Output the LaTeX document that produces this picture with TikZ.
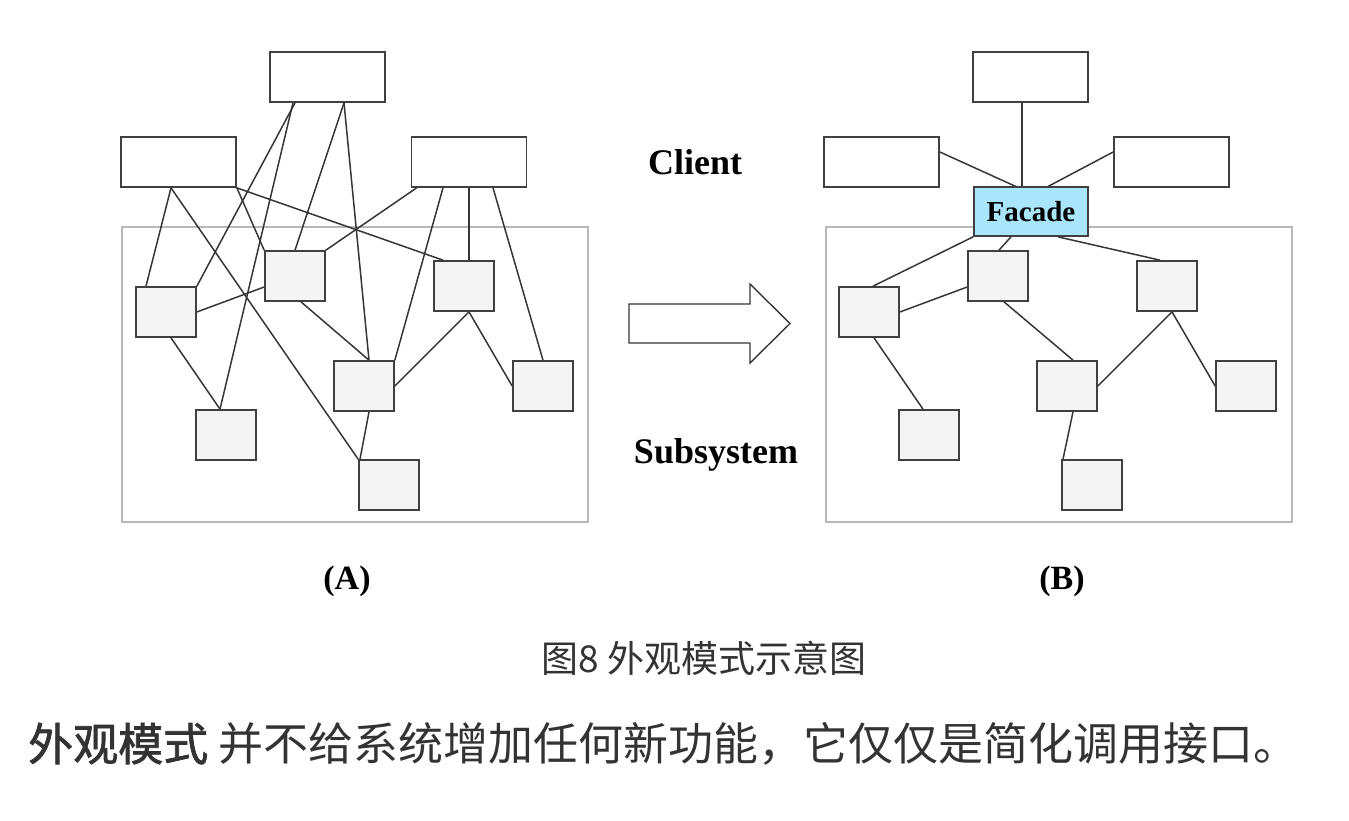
\documentclass[tikz,border=0pt]{standalone}
\usepackage{fontspec}
\setmainfont{Liberation Serif}
\newfontfamily\cjk{Noto Sans CJK SC}
\newfontfamily\cjkfb[FakeBold=1.6]{Noto Sans CJK SC}
\definecolor{linec}{HTML}{363636}
\definecolor{boxline}{HTML}{404040}
\definecolor{framec}{HTML}{B8B8B8}
\definecolor{subfill}{HTML}{F4F4F4}
\definecolor{facfill}{HTML}{A9E6FB}
\definecolor{txtc}{HTML}{333333}
\begin{document}
\begin{tikzpicture}[x=1pt,y=-1pt,
  client/.style={draw=boxline,line width=1.7pt,fill=white,inner sep=0pt,minimum width=115pt,minimum height=50pt},
  subbox/.style={draw=boxline,line width=1.7pt,fill=subfill,inner sep=0pt,minimum width=60pt,minimum height=50pt},
  frame/.style={draw=framec,line width=1.7pt,inner sep=0pt,minimum width=466pt,minimum height=295pt},
  facade/.style={draw=boxline,line width=1.7pt,fill=facfill,inner sep=0pt,minimum width=114pt,minimum height=49pt,font=\fontsize{29}{32}\selectfont\bfseries},
  conn/.style={draw=linec,line width=1.5pt},
  label/.style={font=\fontsize{36}{40}\selectfont\bfseries,inner sep=0pt},
  panel/.style={font=\fontsize{34}{38}\selectfont\bfseries,inner sep=0pt}]
\useasboundingbox (0,0) rectangle (1349,820);

% ---------- (A) ----------
\node[frame] (fa) at (355,374.5) {};
\node[client] (ta) at (327.5,77) {};
\node[client] (la) at (178.5,162) {};
\node[client] (ra) at (469,162) {};
\node[subbox] (a1) at (166,312) {};
\node[subbox] (a2) at (295,276) {};
\node[subbox] (a3) at (464,286) {};
\node[subbox] (a4) at (364,386) {};
\node[subbox] (a5) at (543,386) {};
\node[subbox] (a6) at (226,435) {};
\node[subbox] (a7) at (389,485) {};

\path[conn] ([xshift=-32.5pt]ta.south) -- (a1.north east);
\path[conn] ([xshift=-34.5pt]ta.south) -- ([xshift=-6pt]a6.north);
\path[conn] ([xshift=16.5pt]ta.south) -- (a2.north);
\path[conn] ([xshift=16.5pt]ta.south) -- ([xshift=5pt]a4.north);
\path[conn] ([xshift=-7.5pt]la.south) -- ([xshift=-20pt]a1.north);
\path[conn] ([xshift=-7.5pt]la.south) -- (a7.north west);
\path[conn] (la.south east) -- (a2.north west);
\path[conn] (la.south east) -- ([xshift=-21pt]a3.north);
\path[conn] ([xshift=6pt]ra.south west) -- (a2.north east);
\path[conn] ([xshift=-26pt]ra.south) -- (a4.north east);
\path[conn] (ra.south) -- (ra.south |- a3.north);
\path[conn] ([xshift=24pt]ra.south) -- (a5.north);
\path[conn] (a1.east) -- ([yshift=-11pt]a2.west);
\path[conn] ([xshift=5pt]a1.south) -- ([xshift=-6pt]a6.north);
\path[conn] ([xshift=6pt]a2.south) -- ([xshift=5pt]a4.north);
\path[conn] ([xshift=5pt]a3.south) -- (a4.east);
\path[conn] ([xshift=5pt]a3.south) -- (a5.west);
\path[conn] ([xshift=5pt]a4.south) -- ([xshift=-29pt]a7.north);

% ---------- arrow ----------
\draw[draw=linec,line width=1.4pt,fill=white,line join=miter]
  (629,304) -- (750,304) -- (750,284) -- (790,323.5) -- (750,363) -- (750,343) -- (629,343) -- cycle;

% ---------- (B) ----------
\node[frame] (fb) at (1059,374.5) {};
\node[client] (tb) at (1030.5,77) {};
\node[client] (lb) at (881.5,162) {};
\node[client] (rb) at (1171.5,162) {};
\node[subbox] (b1) at (869,312) {};
\node[subbox] (b2) at (998,276) {};
\node[subbox] (b3) at (1167,286) {};
\node[subbox] (b4) at (1067,386) {};
\node[subbox] (b5) at (1246,386) {};
\node[subbox] (b6) at (929,435) {};
\node[subbox] (b7) at (1092,485) {};

\coordinate (fctop) at (1022,187);
\path[conn] ([xshift=-8.5pt]tb.south) -- (fctop);
\path[conn] ([yshift=10pt]lb.east) -- (1017,187);
\path[conn] ([yshift=10pt]rb.west) -- (1047,187);
\node[facade] (fc) at (1031,211.5) {Facade};
\path[conn] (fc.south west) -- ([xshift=4pt]b1.north);
\path[conn] ([xshift=-20pt]fc.south) -- ([xshift=1pt]b2.north);
\path[conn] ([xshift=27pt]fc.south) -- ([xshift=-7pt]b3.north);
\path[conn] (b1.east) -- ([yshift=-11pt]b2.west);
\path[conn] ([xshift=5pt]b1.south) -- ([xshift=-6pt]b6.north);
\path[conn] ([xshift=6pt]b2.south) -- ([xshift=6pt]b4.north);
\path[conn] ([xshift=5pt]b3.south) -- (b4.east);
\path[conn] ([xshift=5pt]b3.south) -- (b5.west);
\path[conn] ([xshift=6pt]b4.south) -- ([xshift=-29pt]b7.north);

% ---------- labels ----------
\node[label,anchor=base] (client) at (695,174) {Client};
\node[label,anchor=base] (subsys) at (716,463) {Subsystem};
\node[panel] (pa) at (347,581) {(A)};
\node[panel] (pb) at (1062,581) {(B)};
\node[font=\cjk\fontsize{37}{42}\selectfont,text=txtc,inner sep=0pt] (cap) at (704,658) {图8 外观模式示意图};
\node[font=\cjk\fontsize{45}{50}\selectfont,text=txtc,inner sep=0pt,anchor=west] (line) at (28,744)
  {{\cjkfb 外观模式} 并不给系统增加任何新功能，它仅仅是简化调用接口。};
\end{tikzpicture}
\end{document}
